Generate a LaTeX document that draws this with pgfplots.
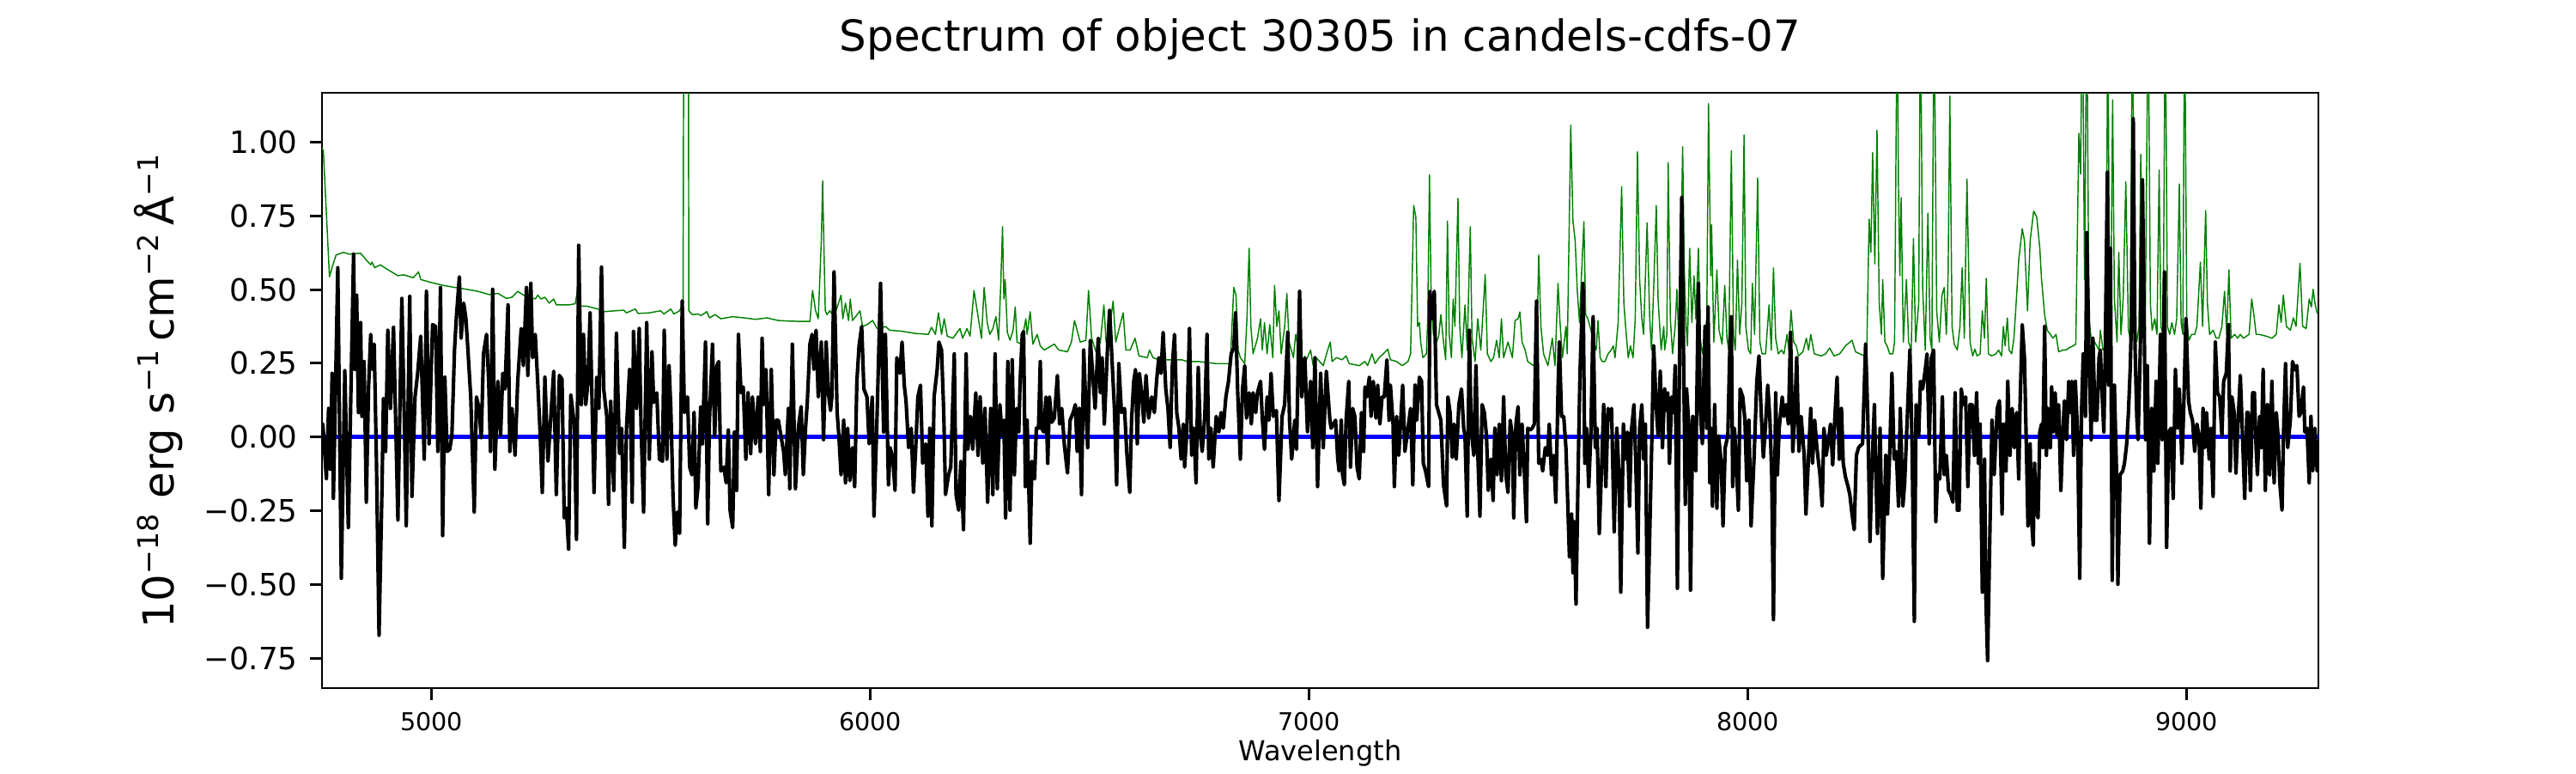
\documentclass[border=0pt]{standalone}
\usepackage{fontspec}
\setmainfont{DejaVu Sans}
\usepackage{pgfplots}
\pgfplotsset{compat=1.18}
\definecolor{mplgreen}{rgb}{0,0.5,0}
\definecolor{mplblue}{rgb}{0,0,1}
\begin{document}
\begin{tikzpicture}
\useasboundingbox (0,0) rectangle (10in,3in);
\begin{axis}[
  at={(1.25in,0.33in)}, anchor=south west,
  scale only axis, width=7.75in, height=2.31in,
  xmin=4750, xmax=9300, ymin=-0.851, ymax=1.167,
  axis line style={line width=0.7pt},
  tick align=outside, major tick length=3.3pt,
  every tick/.style={black, line width=0.7pt},
  xtick pos=bottom, ytick pos=left,
  xtick={5000,6000,7000,8000,9000},
  xticklabels={5000,6000,7000,8000,9000},
  ytick={-0.75,-0.5,-0.25,0,0.25,0.5,0.75,1},
  yticklabels={−0.75,−0.50,−0.25,0.00,0.25,0.50,0.75,1.00},
  xticklabel style={font=\fontsize{6.9}{8}\selectfont},
  yticklabel style={font=\fontsize{8.6}{10}\selectfont},
  xlabel={Wavelength},
  xlabel style={font=\fontsize{7.7}{9}\selectfont, at={(axis description cs:0.5,0)}, anchor=center, yshift=-18.2pt},
  ylabel={10\textsuperscript{−18} erg s\textsuperscript{−1}\,cm\textsuperscript{−2}\,Å\textsuperscript{−1}},
  ylabel style={font=\fontsize{12}{14}\selectfont, at={(axis description cs:-0.0817,0.5)}, anchor=center},
  title={Spectrum of object 30305 in candels-cdfs-07},
  title style={font=\fontsize{12}{14}\selectfont, at={(axis description cs:0.5,1)}, anchor=base, yshift=5.6pt},
]
\addplot[mplblue, line width=1.2pt, forget plot] coordinates {(4750,0) (9300,0)};
\addplot[mplgreen, line width=0.35pt, line join=round] coordinates {
(4750,0.98)(4753,0.971)(4760,0.759)(4767,0.543)(4774,0.580)(4782,0.617)(4799,0.626)(4812,0.620)(4838,0.623)(4851,0.600)(4861,0.584)(4864,0.593)(4870,0.574)(4883,0.584)(4896,0.571)(4923,0.547)(4936,0.550)(4958,0.540)(4970,0.560)(4975,0.534)(5001,0.523)(5027,0.514)(5053,0.507)(5079,0.501)(5105,0.494)(5131,0.483)(5151,0.487)(5170,0.470)(5183,0.474)(5196,0.494)(5209,0.481)(5226,0.474)(5236,0.468)(5242,0.481)(5249,0.468)(5258,0.474)(5268,0.454)(5278,0.468)(5284,0.448)(5314,0.448)(5327,0.452)(5332,0.494)(5337,0.444)(5353,0.444)(5379,0.434)(5392,0.425)(5418,0.428)(5438,0.430)(5444,0.421)(5464,0.434)(5470,0.419)(5496,0.421)(5522,0.428)
(5529,0.417)(5545,0.434)(5552,0.417)(5565,0.428)(5573,0.454)(5576,2.5)(5584,2.5)(5586,0.428)(5594,0.415)(5607,0.417)(5614,0.412)(5627,0.425)(5633,0.404)(5646,0.415)(5659,0.401)(5686,0.408)(5712,0.404)(5738,0.399)(5764,0.404)(5790,0.395)(5816,0.393)(5842,0.392)(5862,0.392)(5868,0.497)(5875,0.428)(5881,0.401)(5888,0.666)(5891,0.868)(5894,0.640)(5897,0.428)(5901,0.415)(5907,0.428)(5914,0.415)(5920,0.421)(5933,0.481)(5937,0.401)(5943,0.454)(5950,0.395)(5954,0.468)(5959,0.395)(5966,0.408)(5976,0.428)(5982,0.375)(5992,0.381)(6005,0.395)(6015,0.368)(6025,0.368)(6034,0.375)(6044,0.362)(6070,0.359)(6103,0.351)(6132,0.348)(6139,0.372)(6148,0.348)(6155,0.421)(6162,0.348)(6168,0.401)(6175,0.342)(6188,0.335)(6204,0.368)(6210,0.335)(6220,0.368)(6227,0.342)(6236,0.497)(6246,0.401)(6253,0.335)(6259,0.507)(6266,0.388)(6272,0.348)(6279,0.368)
(6286,0.408)(6292,0.328)(6297,0.521)(6301,0.713)(6304,0.468)(6307,0.534)(6312,0.355)(6318,0.328)(6325,0.362)(6330,0.441)(6334,0.322)(6344,0.315)(6354,0.401)(6357,0.348)(6364,0.425)(6370,0.315)(6380,0.348)(6387,0.309)(6396,0.295)(6419,0.315)(6429,0.295)(6449,0.289)(6458,0.322)(6465,0.395)(6471,0.362)(6478,0.322)(6491,0.328)(6497,0.497)(6504,0.335)(6514,0.289)(6524,0.322)(6532,0.448)(6537,0.322)(6543,0.348)(6553,0.461)(6559,0.322)(6569,0.381)(6576,0.421)(6582,0.295)(6592,0.295)(6603,0.335)(6612,0.275)(6631,0.269)(6636,0.295)(6644,0.269)(6657,0.262)(6683,0.262)(6709,0.262)(6722,0.256)(6748,0.256)(6788,0.249)(6820,0.249)(6828,0.507)(6833,0.481)(6838,0.295)(6843,0.269)(6853,0.249)(6858,0.401)(6863,0.640)(6867,0.375)(6872,0.282)(6882,0.335)(6889,0.401)(6893,0.295)(6898,0.388)(6904,0.282)(6910,0.381)(6917,0.269)(6921,0.514)(6926,0.375)(6931,0.428)(6936,0.282)(6944,0.375)(6949,0.487)(6954,0.322)(6964,0.269)(6969,0.348)(6977,0.282)(6990,0.249)(7003,0.295)(7009,0.242)(7016,0.269)(7032,0.242)(7042,0.295)(7048,0.322)
(7052,0.256)(7062,0.269)(7075,0.262)(7084,0.275)(7091,0.249)(7114,0.242)(7127,0.256)(7133,0.242)(7143,0.282)(7150,0.249)(7159,0.269)(7169,0.282)(7179,0.298)(7185,0.262)(7199,0.256)(7212,0.242)(7225,0.256)(7231,0.282)(7238,0.785)(7243,0.746)(7247,0.375)(7251,0.388)(7254,0.322)(7259,0.269)(7267,0.282)(7270,0.401)(7274,0.889)(7278,0.454)(7283,0.348)(7290,0.322)(7295,0.342)(7300,0.415)(7306,0.322)(7311,0.262)(7315,0.732)(7319,0.348)(7324,0.269)(7328,0.468)(7332,0.375)(7339,0.809)(7343,0.375)(7348,0.269)(7355,0.448)(7360,0.295)(7367,0.713)(7371,0.335)(7378,0.256)(7384,0.401)(7391,0.295)(7401,0.551)(7406,0.282)(7414,0.256)(7420,0.269)(7427,0.328)(7433,0.269)(7438,0.401)(7443,0.269)(7453,0.322)(7463,0.269)(7469,0.395)(7476,0.401)(7480,0.424)(7485,0.322)(7492,0.295)(7498,0.256)(7511,0.242)(7518,0.269)(7523,0.617)(7528,0.375)(7534,0.282)(7544,0.242)(7554,0.335)(7560,0.242)(7567,0.521)(7571,0.401)(7577,0.269)(7585,0.375)(7588,0.282)(7596,1.057)(7601,0.732)(7606,0.666)(7611,0.494)(7616,0.388)(7620,0.534)(7626,0.730)(7630,0.415)(7635,0.401)(7642,0.362)(7648,0.322)(7654,0.295)(7658,0.395)(7663,0.269)(7668,0.256)(7674,0.256)(7681,0.282)(7688,0.295)(7693,0.309)(7697,0.269)(7704,0.388)(7712,0.849)(7717,0.454)(7721,0.375)(7727,0.269)(7732,0.309)(7738,0.269)(7743,0.401)(7748,0.967)(7753,0.534)(7758,0.401)(7762,0.348)(7770,0.726)(7776,0.401)(7780,0.295)(7785,0.507)(7791,0.785)(7795,0.468)(7802,0.295)(7808,0.375)
(7810,0.295)(7815,0.348)(7818,0.931)(7823,0.401)(7828,0.282)(7834,0.375)(7838,0.501)(7843,0.295)(7847,0.600)(7851,0.984)(7855,0.560)(7859,0.375)(7862,0.309)(7867,0.640)(7872,0.388)(7877,0.547)(7881,0.401)(7887,0.640)(7891,0.335)(7896,0.282)(7902,0.348)(7906,0.401)(7910,1.130)(7915,0.547)(7917,0.719)(7922,0.322)(7929,0.567)(7934,0.362)(7941,0.315)(7947,0.514)(7952,0.335)(7956,0.295)(7962,0.971)(7967,0.348)(7971,0.295)(7976,0.600)(7981,0.348)(7986,0.454)(7991,1.024)(7995,0.375)(8001,0.295)(8006,0.282)(8010,0.521)(8015,0.348)(8022,0.878)(8027,0.322)(8032,0.282)(8040,0.282)(8048,0.448)(8053,0.295)(8058,0.574)(8063,0.335)(8069,0.282)(8076,0.295)(8082,0.282)(8089,0.348)(8093,0.295)(8098,0.430)(8104,0.322)(8110,0.309)(8115,0.275)(8125,0.289)(8133,0.335)(8138,0.295)(8143,0.348)(8151,0.282)(8167,0.275)(8177,0.282)(8186,0.302)(8196,0.275)(8209,0.282)(8222,0.309)(8237,0.328)(8245,0.289)(8255,0.282)(8265,0.275)(8271,0.322)(8276,0.739)(8280,0.626)(8284,0.964)(8289,0.587)(8294,1.040)(8299,0.454)(8304,0.348)(8307,0.534)(8312,0.322)(8317,0.309)(8323,0.282)(8330,0.282)(8334,0.322)(8340,1.5)(8343,0.838)(8346,0.547)(8349,0.812)(8354,0.322)(8361,0.534)(8366,0.322)(8372,0.295)(8377,0.673)(8382,0.322)(8389,0.454)(8393,1.5)(8398,0.507)(8404,0.295)(8410,0.759)(8415,0.335)(8419,0.295)(8424,1.5)(8430,0.428)(8436,0.322)(8442,0.481)(8447,0.507)(8452,0.348)(8456,0.547)(8460,1.156)(8465,0.375)(8470,0.315)(8477,0.295)(8483,0.375)(8488,0.574)(8493,0.335)(8499,0.875)(8506,0.322)(8512,0.275)(8517,0.298)(8522,0.275)(8529,0.282)(8534,0.428)(8539,0.335)(8543,0.538)(8548,0.282)(8555,0.275)(8565,0.282)(8571,0.295)
(8578,0.275)(8582,0.375)(8586,0.309)(8591,0.404)(8595,0.295)(8601,0.282)(8606,0.335)(8610,0.428)(8617,0.600)(8625,0.706)(8630,0.666)(8637,0.428)(8643,0.666)(8651,0.766)(8658,0.746)(8665,0.640)(8669,0.534)(8676,0.415)(8682,0.362)(8689,0.348)(8695,0.335)(8702,0.348)(8708,0.289)(8718,0.295)(8725,0.295)(8731,0.302)(8741,0.309)(8747,0.315)(8754,1.030)(8758,0.891)(8762,1.5)(8767,0.534)(8772,1.5)(8777,0.401)(8783,0.322)(8790,0.322)(8800,0.295)(8803,0.362)(8809,0.295)(8816,0.309)(8820,1.5)(8824,0.401)(8828,0.640)(8831,1.143)(8835,0.468)(8841,0.322)(8845,0.626)(8850,0.348)(8855,0.468)(8861,0.865)(8867,0.362)(8871,0.335)(8876,1.5)(8881,0.401)(8886,0.322)(8891,0.375)(8895,0.958)(8901,0.534)(8905,0.335)(8912,1.5)(8917,0.454)(8921,0.362)(8927,0.401)(8932,0.348)(8937,0.905)(8941,0.375)(8946,0.348)(8951,1.5)(8956,0.375)(8961,0.348)(8966,0.388)(8972,0.348)(8977,0.401)(8983,0.858)(8987,0.388)(8991,0.348)(8995,1.5)(9000,0.401)(9005,0.328)(9011,0.348)(9018,0.348)(9023,0.375)(9031,0.593)(9036,0.375)(9043,0.768)(9047,0.454)(9052,0.348)(9060,0.362)(9067,0.335)(9073,0.335)(9080,0.375)(9086,0.494)(9091,0.348)(9096,0.567)(9101,0.335)(9109,0.348)(9116,0.335)(9122,0.348)(9129,0.335)(9142,0.348)(9148,0.468)(9154,0.401)(9158,0.348)(9165,0.348)(9181,0.342)(9194,0.335)(9204,0.348)(9210,0.448)(9215,0.388)(9220,0.481)(9227,0.375)(9236,0.362)(9243,0.404)(9249,0.375)(9258,0.589)(9264,0.375)(9272,0.368)(9279,0.468)(9284,0.441)(9288,0.501)(9292,0.454)(9297,0.421)(9300,0.43)
};
\addplot[black, line width=1pt, line join=round] coordinates {
(4750,0.04)(4752,0.044)(4760,-0.142)(4765,0.097)(4769,-0.109)(4773,0.216)(4776,-0.208)(4786,0.574)(4794,-0.479)(4802,0.225)(4810,-0.307)(4815,0.083)(4822,0.620)(4825,0.229)(4829,0.481)(4833,0.083)(4838,0.388)(4841,0.070)(4846,0.256)(4851,-0.221)(4856,0.163)(4861,0.348)(4865,0.229)(4869,0.315)(4874,-0.075)(4880,-0.672)(4887,-0.155)(4890,0.130)(4895,-0.049)(4900,0.362)(4906,0.097)(4913,0.372)(4923,-0.281)(4932,0.470)(4938,0.030)(4942,-0.301)(4950,0.477)(4955,-0.201)(4962,0.136)(4968,0.216)(4975,0.342)(4983,-0.075)(4988,0.494)(4994,-0.023)(5002,0.381)(5009,0.375)(5014,-0.049)(5020,0.507)(5025,-0.334)(5030,0.203)(5035,-0.049)(5041,-0.042)(5046,0.004)(5052,0.295)(5056,0.401)(5063,0.543)(5067,0.335)(5073,0.454)(5078,0.401)(5082,0.309)(5089,0.136)(5097,-0.254)(5102,0.136)(5108,0.097)(5113,-0.003)(5118,0.282)(5125,0.348)(5130,0.183)(5134,-0.049)(5139,0.501)(5144,-0.109)(5151,0.189)(5157,0.004)(5162,0.216)(5167,0.163)(5174,0.448)(5178,-0.049)(5183,0.097)(5190,-0.062)(5196,0.189)(5204,0.368)(5209,0.242)(5216,0.507)(5219,0.209)(5226,0.521)(5230,0.269)(5236,0.348)(5242,0.176)(5247,0.017)(5252,-0.188)(5258,0.203)(5265,-0.082)(5271,0.057)(5278,0.223)(5284,-0.195)(5291,0.209)(5297,0.196)(5302,-0.274)(5307,-0.241)(5312,-0.380)(5317,0.143)(5325,0.044)(5330,-0.347)(5335,0.650)(5341,0.110)(5346,0.348)(5351,0.110)(5356,0.183)(5361,0.421)(5366,0.083)(5370,-0.188)(5376,0.203)(5381,0.097)(5387,0.576)(5392,0.163)(5399,0.070)(5403,-0.228)(5408,0.121)(5415,-0.181)(5421,0.352)(5428,-0.056)(5433,0.030)(5439,-0.374)(5444,0.030)(5451,0.229)(5457,-0.221)(5460,0.358)(5467,0.097)(5473,0.368)(5477,0.044)(5483,-0.254)(5490,0.388)(5496,-0.075)(5502,0.289)(5506,0.117)(5513,0.150)(5519,-0.075)
(5526,-0.082)(5530,0.362)(5536,-0.075)(5541,0.242)(5545,0.097)(5550,-0.201)(5555,-0.367)(5560,-0.254)(5565,-0.327)(5571,0.461)(5576,0.083)(5583,0.136)(5588,-0.102)(5593,-0.128)(5598,0.083)(5602,-0.241)(5607,-0.168)(5613,0.103)(5617,-0.023)(5624,0.322)(5629,-0.294)(5633,0.057)(5640,0.315)(5645,0.004)(5650,0.242)(5654,0.256)(5659,-0.115)(5666,-0.102)(5671,-0.155)(5676,0.024)(5680,-0.248)(5686,-0.307)(5690,0.017)(5695,-0.181)(5699,0.348)(5705,0.150)(5710,0.170)(5716,-0.075)(5721,0.150)(5727,-0.056)(5731,0.136)(5738,-0.023)(5744,0.136)(5749,-0.049)(5753,0.335)(5757,0.110)(5762,0.229)(5768,-0.195)(5774,0.229)(5780,-0.128)(5785,0.057)(5790,0.057)(5796,0.004)(5802,-0.049)(5806,-0.128)(5813,0.097)(5816,-0.175)(5822,0.315)(5829,-0.175)(5836,0.037)(5842,0.103)(5847,-0.128)(5852,0.030)(5856,0.117)(5862,0.315)(5867,0.348)(5871,0.229)(5876,0.362)(5881,0.136)(5888,0.322)(5893,-0.009)(5899,0.322)(5904,0.150)(5909,0.090)(5912,0.136)(5917,0.560)(5924,0.083)(5928,0.004)(5933,-0.128)(5939,0.057)(5943,-0.155)(5948,0.030)(5953,-0.148)(5959,-0.036)(5964,-0.168)(5969,0.189)(5974,0.309)(5980,0.375)(5985,0.163)(5992,0.136)(5997,-0.023)(6004,0.136)(6008,-0.268)(6015,0.070)(6023,0.521)(6030,0.017)(6034,0.348)(6041,-0.162)(6045,-0.036)(6051,-0.075)(6056,-0.181)(6060,0.269)(6067,0.216)(6072,0.322)(6077,0.176)(6081,0.123)(6087,-0.036)(6093,0.030)(6098,-0.188)(6103,-0.042)(6108,0.136)(6114,0.176)(6119,-0.089)(6126,-0.023)(6131,-0.268)(6135,0.030)(6140,-0.301)(6145,0.136)(6152,0.229)(6156,0.322)(6162,0.295)(6167,0.083)(6171,-0.195)(6178,-0.128)(6183,-0.102)(6191,0.282)(6195,-0.195)(6201,-0.248)(6206,-0.082)(6212,-0.314)(6218,0.282)(6222,-0.042)(6228,0.070)(6233,-0.042)(6240,0.150)(6245,-0.062)(6250,0.136)(6256,-0.089)(6261,0.097)(6267,-0.221)(6274,0.097)(6279,-0.195)(6284,0.282)
(6289,-0.175)(6295,0.110)(6300,0.004)(6304,0.057)(6308,-0.274)(6313,0.256)(6318,-0.248)(6323,0.262)(6328,-0.128)(6333,0.097)(6338,0.017)(6341,0.189)(6346,0.348)(6349,0.358)(6353,-0.168)(6357,0.057)(6364,-0.360)(6368,-0.082)(6374,-0.142)(6378,0.030)(6383,0.030)(6387,0.256)(6390,0.030)(6395,0.017)(6400,0.136)(6404,-0.089)(6408,0.136)(6413,0.050)(6419,0.064)(6426,0.209)(6431,0.044)(6436,0.097)(6442,-0.029)(6449,-0.122)(6455,0.057)(6462,0.083)(6467,0.110)(6471,-0.049)(6476,0.097)(6481,-0.195)(6486,0.295)(6491,0.097)(6495,-0.036)(6501,0.328)(6507,0.203)(6512,0.097)(6519,0.335)(6524,0.150)(6528,0.269)(6533,0.044)(6540,0.295)(6545,0.430)(6552,0.216)(6556,0.097)(6561,-0.162)(6566,0.249)(6572,0.083)(6579,0.097)(6584,-0.049)(6591,-0.188)(6595,0.057)(6600,0.189)(6604,0.229)(6608,-0.023)(6613,0.216)(6618,0.150)(6623,0.050)(6628,0.209)(6634,0.064)(6641,0.136)(6647,0.083)(6652,0.189)(6657,0.269)(6662,0.216)(6667,0.355)(6673,0.163)(6678,0.097)(6683,-0.036)(6688,0.242)(6693,0.348)(6698,0.083)(6703,0.030)(6708,-0.075)(6713,0.044)(6716,-0.102)(6721,0.017)(6727,0.368)(6732,-0.062)(6737,0.030)(6742,-0.155)(6747,0.236)(6752,0.004)(6756,-0.049)(6762,0.070)(6767,0.348)(6771,-0.075)(6776,0.030)(6781,-0.102)(6788,0.070)(6794,0.017)(6799,0.083)(6804,0.030)(6810,0.136)(6816,0.189)(6822,0.282)(6828,0.302)(6832,0.421)(6837,0.150)(6843,-0.075)(6848,0.163)(6853,0.242)(6857,0.064)(6863,0.150)(6868,0.044)(6872,0.150)(6878,0.083)(6882,0.150)(6889,0.189)(6893,0.064)(6898,-0.042)(6904,0.136)(6908,0.057)(6913,0.216)(6918,0.070)(6925,0.090)(6931,-0.215)(6938,0.070)(6944,0.110)(6951,0.355)(6955,0.057)(6960,-0.075)(6967,0.057)(6971,-0.042)(6978,0.494)(6983,0.136)(6990,0.269)(6996,0.017)(7003,0.189)(7008,-0.036)(7013,0.269)(7019,-0.168)(7026,0.216)(7032,-0.036)(7039,0.223)(7047,0.057)
(7050,0.030)(7055,0.044)(7060,0.057)(7065,-0.075)(7068,-0.115)(7073,0.057)(7076,-0.128)(7080,-0.162)(7084,0.057)(7090,0.189)(7094,-0.102)(7099,0.097)(7104,0.070)(7109,-0.102)(7114,-0.142)(7119,0.083)(7124,-0.049)(7127,0.170)(7131,0.136)(7137,0.203)(7141,0.070)(7146,0.189)(7152,0.064)(7156,0.176)(7161,0.044)(7166,0.136)(7171,0.136)(7177,0.262)(7182,0.057)(7185,0.176)(7191,0.044)(7194,-0.168)(7199,0.070)(7204,-0.062)(7208,0.044)(7213,0.176)(7218,-0.049)(7225,0.030)(7231,0.097)(7236,-0.162)(7241,0.176)(7245,0.057)(7251,0.203)(7256,0.189)(7260,-0.089)(7265,-0.115)(7272,-0.168)(7275,0.494)(7280,0.401)(7285,0.494)(7290,0.110)(7295,0.083)(7300,0.057)(7306,-0.162)(7313,-0.234)(7316,0.136)(7321,0.083)(7326,-0.069)(7330,0.044)(7335,-0.075)(7341,0.110)(7347,0.163)(7352,0.030)(7355,0.004)(7360,-0.268)(7365,0.362)(7369,0.030)(7375,-0.062)(7380,0.242)(7384,-0.049)(7389,-0.268)(7394,0.110)(7399,0.083)(7404,0.004)(7408,-0.181)(7414,-0.075)(7419,-0.215)(7423,0.030)(7428,-0.128)(7433,0.044)(7438,-0.148)(7443,0.136)(7448,-0.128)(7453,-0.188)(7458,0.057)(7463,0.004)(7466,-0.274)(7471,0.044)(7476,0.103)(7480,-0.128)(7485,0.044)(7490,-0.109)(7495,-0.287)(7498,0.030)(7504,0.024)(7508,0.030)(7513,0.044)(7518,0.461)(7523,-0.089)(7528,-0.075)(7532,-0.115)(7538,-0.036)(7543,-0.062)(7547,0.044)(7552,-0.128)(7557,-0.062)(7562,-0.221)(7567,0.163)(7570,0.322)(7575,0.070)(7580,0.070)(7585,-0.036)(7588,-0.168)(7593,-0.407)(7598,-0.261)(7601,-0.460)(7604,-0.287)(7608,-0.566)(7613,-0.102)(7617,0.216)(7624,0.521)(7628,-0.089)(7632,0.030)(7637,-0.168)(7642,0.017)(7647,0.408)(7652,-0.036)(7656,0.030)(7661,-0.327)(7667,-0.075)(7671,0.110)(7676,-0.168)(7681,0.097)(7686,0.057)(7689,0.097)(7695,-0.321)(7701,0.030)(7706,-0.128)(7710,-0.526)(7716,0.044)(7720,-0.075)(7725,0.017)(7730,-0.234)(7734,0.017)(7740,0.110)(7744,-0.075)(7749,-0.393)(7753,0.030)(7758,0.110)(7762,-0.075)(7766,0.044)(7771,-0.645)(7776,-0.327)(7781,0.004)(7785,0.309)(7791,0.097)(7795,0.004)(7800,0.223)(7805,-0.036)(7810,0.163)
(7812,0.090)(7817,0.150)(7821,-0.089)(7826,0.136)(7830,0.083)(7834,0.242)(7839,-0.513)(7844,0.269)(7849,0.812)(7854,0.163)(7857,-0.228)(7860,0.163)(7865,0.044)(7869,-0.519)(7874,0.070)(7878,-0.049)(7881,-0.115)(7887,0.521)(7891,0.097)(7896,-0.023)(7902,0.375)(7906,0.030)(7909,0.441)(7913,-0.155)(7916,0.030)(7919,-0.234)(7924,0.110)(7929,-0.241)(7933,0.004)(7939,-0.089)(7943,-0.301)(7948,-0.036)(7954,0.004)(7958,0.269)(7962,0.408)(7965,-0.168)(7969,0.030)(7973,-0.075)(7978,-0.248)(7982,0.163)(7988,0.136)(7993,0.057)(7997,-0.148)(8002,0.057)(8007,-0.301)(8014,-0.062)(8020,0.189)(8025,0.275)(8030,0.083)(8035,-0.069)(8040,0.044)(8045,0.176)(8050,0.057)(8054,-0.128)(8058,-0.619)(8063,0.150)(8067,-0.128)(8071,0.030)(8078,0.136)(8082,0.070)(8087,0.110)(8092,0.044)(8097,0.355)(8102,-0.049)(8106,0.057)(8111,0.269)(8116,-0.049)(8121,0.070)(8128,-0.062)(8132,-0.261)(8138,-0.062)(8143,0.097)(8147,-0.089)(8152,0.057)(8157,-0.036)(8164,-0.128)(8169,-0.234)(8173,0.030)(8178,-0.062)(8183,-0.016)(8188,0.044)(8193,-0.095)(8198,0.070)(8203,0.203)(8208,-0.075)(8213,0.097)(8217,-0.089)(8222,-0.135)(8228,-0.168)(8232,-0.195)(8237,-0.261)(8242,-0.314)(8247,-0.062)(8252,-0.036)(8256,-0.029)(8261,-0.023)(8268,0.315)(8273,0.070)(8278,-0.354)(8282,-0.128)(8288,0.110)(8291,-0.102)(8295,-0.327)(8301,0.030)(8307,-0.479)(8314,-0.062)(8318,-0.261)(8323,-0.049)(8328,0.216)(8333,-0.075)(8338,-0.049)(8343,-0.234)(8347,0.097)(8353,-0.234)(8357,-0.155)(8362,0.030)(8369,0.295)(8374,-0.036)(8379,-0.625)(8383,0.110)(8389,0.004)(8393,0.189)(8398,0.163)(8404,0.229)(8408,0.282)(8413,-0.023)(8418,0.269)(8423,0.295)(8428,-0.287)(8432,-0.128)(8437,-0.142)(8443,0.136)(8447,-0.128)(8452,-0.062)(8457,-0.181)(8462,-0.195)(8467,-0.221)(8472,0.150)(8477,-0.248)(8481,-0.248)(8486,0.163)(8491,0.110)(8496,0.136)(8501,-0.168)(8506,0.110)(8511,0.110)(8516,-0.062)(8521,0.150)(8525,-0.089)(8529,0.044)(8534,-0.526)(8539,-0.075)(8542,-0.539)(8546,-0.758)(8552,-0.261)(8556,0.057)(8561,-0.128)(8568,0.097)(8573,0.123)
(8579,-0.261)(8582,0.044)(8588,-0.115)(8592,0.189)(8597,-0.062)(8602,0.097)(8607,-0.036)(8612,0.083)(8617,-0.142)(8620,0.110)(8625,0.381)(8630,0.269)(8635,-0.075)(8638,-0.301)(8643,-0.023)(8646,-0.274)(8650,-0.367)(8653,-0.089)(8656,-0.234)(8661,-0.274)(8665,0.017)(8669,0.044)(8672,-0.036)(8676,0.375)(8680,-0.062)(8684,0.097)(8689,-0.036)(8692,0.170)(8696,0.017)(8700,0.150)(8704,0.004)(8708,0.110)(8713,-0.181)(8718,0.030)(8721,0.123)(8726,-0.009)(8731,0.189)(8734,0.083)(8738,0.189)(8742,-0.062)(8746,0.189)(8751,0.017)(8756,-0.479)(8760,0.083)(8764,0.282)(8769,0.070)(8772,0.693)(8777,0.295)(8782,-0.009)(8786,0.335)(8791,0.057)(8795,0.057)(8800,0.269)(8803,0.295)(8806,0.176)(8811,0.017)(8814,0.269)(8819,0.898)(8822,0.176)(8826,0.640)(8830,-0.486)(8835,0.176)(8840,-0.128)(8843,-0.499)(8848,-0.128)(8854,-0.115)(8858,-0.089)(8863,-0.023)(8867,0.083)(8871,0.229)(8874,0.401)(8878,1.079)(8882,0.309)(8886,0.070)(8889,-0.009)(8894,0.295)(8899,0.872)(8903,0.375)(8906,-0.009)(8910,0.242)(8915,-0.360)(8920,0.097)(8925,-0.115)(8930,0.189)(8934,-0.089)(8940,0.348)(8944,-0.009)(8949,0.560)(8954,-0.374)(8959,0.017)(8964,0.030)(8969,-0.208)(8974,0.229)(8979,0.030)(8983,0.163)(8989,-0.089)(8993,0.097)(8998,0.401)(9004,0.123)(9008,0.083)(9013,0.057)(9018,-0.049)(9023,0.044)(9028,0.004)(9032,-0.241)(9037,0.097)(9041,-0.036)(9045,0.083)(9051,-0.075)(9055,0.030)(9060,-0.201)(9065,0.322)(9070,0.150)(9075,0.136)(9080,0.004)(9084,0.189)(9090,0.216)(9095,0.381)(9099,-0.115)(9103,0.136)(9108,0.083)(9112,-0.122)(9117,0.057)(9122,0.209)(9127,0.004)(9132,-0.208)(9137,0.083)(9140,0.083)(9145,-0.181)(9150,0.150)(9154,0.150)(9158,-0.036)(9161,-0.128)(9166,0.070)(9170,-0.036)(9174,0.229)(9179,-0.181)(9184,0.110)(9189,-0.128)(9194,0.189)(9199,-0.155)(9204,0.083)(9208,0.004)(9212,-0.155)(9217,-0.248)(9221,0.044)(9225,0.249)(9230,-0.036)(9236,0.057)(9241,0.256)(9246,0.229)(9251,0.242)(9256,0.070)(9260,0.083)(9266,0.170)(9269,0.017)(9274,0.030)(9279,-0.155)(9283,0.070)(9287,-0.115)(9292,0.030)(9297,-0.115)(9300,-0.05)
};
\end{axis}
\end{tikzpicture}
\end{document}
